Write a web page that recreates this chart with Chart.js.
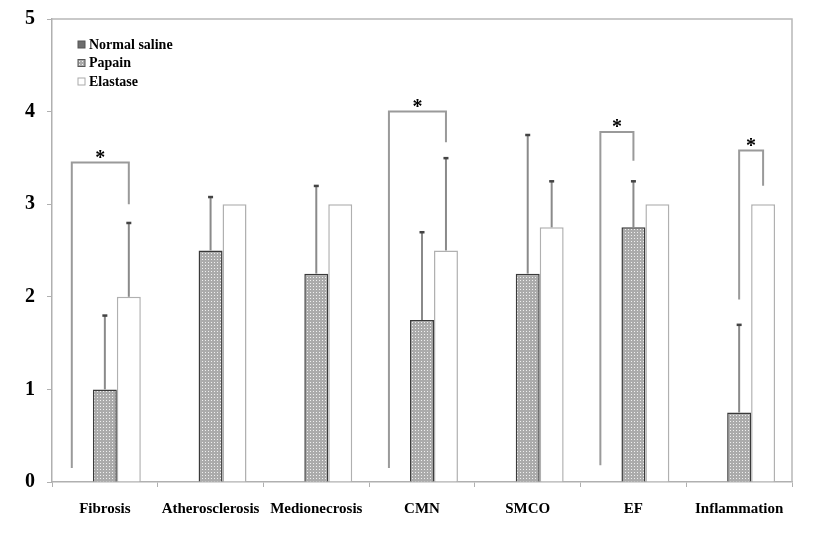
<!DOCTYPE html>
<html>
<head>
<meta charset="utf-8">
<script src="https://cdn.jsdelivr.net/npm/chart.js@4.4.1/dist/chart.umd.min.js"></script>
<style>
  body { margin: 0; background: #fff; }
  #c { display: block; }
</style>
</head>
<body>
<canvas id="c" width="827" height="533"></canvas>
<script>
// data
categories = ["Fibrosis", "Atherosclerosis", "Medionecrosis", "CMN", "SMCO", "EF", "Inflammation"];
seriesNames = ["Normal saline", "Papain", "Elastase"];
normalSaline = [0, 0, 0, 0, 0, 0, 0];
papain = [1.0, 2.5, 2.25, 1.75, 2.25, 2.75, 0.75];
papainUpper = [1.8, 3.08, 3.2, 2.7, 3.75, 3.25, 1.7];
elastase = [2.0, 3.0, 3.0, 2.5, 2.75, 3.0, 3.0];
elastaseUpper = [2.8, null, null, 3.5, 3.25, null, null];
yTicks = [0, 1, 2, 3, 4, 5];

// significance brackets: category, from series, to series, top value, bottom of each leg
sigCategory = [0, 3, 5, 6];
sigFrom = [0, 0, 0, 1];
sigTo = [2, 2, 1, 2];
sigTop = [3.45, 4.0, 3.78, 3.58];
sigLeftBottom = [0.15, 0.15, 0.18, 1.97];
sigRightBottom = [3.0, 3.67, 3.47, 3.2];
sigLabel = ["*", "*", "*", "*"];

FONT = "'Liberation Serif', 'Times New Roman', serif";

function makeDots() {
  let p = document.createElement("canvas");
  p.width = 3;
  p.height = 3;
  let g = p.getContext("2d");
  g.fillStyle = "#ababab";
  g.fillRect(0, 0, 3, 3);
  g.fillStyle = "#f0f0f0";
  g.fillRect(1, 1, 1, 1);
  return g.createPattern(p, "repeat");
}
dots = makeDots();

const extras = {
  id: "extras",
  afterDatasetsDraw(chart) {
    const ctx = chart.ctx;
    const a = chart.chartArea;
    const y = chart.scales.y;

    // frame on top and right
    ctx.save();
    ctx.strokeStyle = "#b8b8b8";
    ctx.lineWidth = 1.5;
    ctx.beginPath();
    ctx.moveTo(a.left, a.top);
    ctx.lineTo(a.right, a.top);
    ctx.lineTo(a.right, a.bottom);
    ctx.stroke();

    // error bars
    [[1, papainUpper], [2, elastaseUpper]].forEach(([di, upper]) => {
      const meta = chart.getDatasetMeta(di);
      meta.data.forEach((bar, i) => {
        if (upper[i] == null) return;
        const yt = y.getPixelForValue(upper[i]);
        ctx.strokeStyle = "#8a8a8a";
        ctx.lineWidth = 2;
        ctx.beginPath();
        ctx.moveTo(bar.x, bar.y);
        ctx.lineTo(bar.x, yt);
        ctx.stroke();
        ctx.fillStyle = "#444";
        ctx.fillRect(bar.x - 2.5, yt - 1, 5, 2.5);
      });
    });

    // brackets with stars
    const bw = chart.getDatasetMeta(0).data[0].width;
    sigCategory.forEach((c, k) => {
      let xl = chart.getDatasetMeta(sigFrom[k]).data[c].x;
      let xr = chart.getDatasetMeta(sigTo[k]).data[c].x;
      if (sigFrom[k] == 0) xl -= bw * 0.38;
      const yt = y.getPixelForValue(sigTop[k]);
      ctx.strokeStyle = "#9a9a9a";
      ctx.lineWidth = 2;
      ctx.beginPath();
      ctx.moveTo(xl, y.getPixelForValue(sigLeftBottom[k]));
      ctx.lineTo(xl, yt);
      ctx.lineTo(xr, yt);
      ctx.lineTo(xr, y.getPixelForValue(sigRightBottom[k]));
      ctx.stroke();
      ctx.fillStyle = "#000";
      ctx.font = "bold 20px " + FONT;
      ctx.textAlign = "center";
      ctx.textBaseline = "middle";
      ctx.fillText(sigLabel[k], (xl + xr) / 2, yt - 4);
    });

    // legend
    ctx.font = "bold 14px " + FONT;
    ctx.textAlign = "left";
    ctx.textBaseline = "middle";
    chart.data.datasets.forEach((ds, i) => {
      const ly = a.top + 26 + i * 18.5;
      const lx = a.left + 26;
      ctx.fillStyle = i == 0 ? "#6e6e6e" : ds.backgroundColor;
      ctx.fillRect(lx, ly - 4, 7, 7);
      ctx.strokeStyle = i == 2 ? "#aaa" : "#555";
      ctx.lineWidth = 1;
      ctx.strokeRect(lx, ly - 4, 7, 7);
      ctx.fillStyle = "#000";
      ctx.fillText(ds.label, lx + 11, ly);
    });
    ctx.restore();
  },
};

const ctx = document.getElementById("c").getContext("2d");
myChart = new Chart(ctx, {
  type: "bar",
  data: {
    labels: categories,
    datasets: [
      {
        label: seriesNames[0],
        data: normalSaline,
        backgroundColor: "#6e6e6e",
        borderWidth: 0,
      },
      {
        label: seriesNames[1],
        data: papain,
        backgroundColor: dots,
        borderColor: "#3a3a3a",
        borderWidth: 1.5,
      },
      {
        label: seriesNames[2],
        data: elastase,
        backgroundColor: "#ffffff",
        borderColor: "#b0b0b0",
        borderWidth: 1.5,
      },
    ],
  },
  options: {
    responsive: false,
    animation: false,
    devicePixelRatio: 1,
    layout: { padding: { top: 19, right: 35, left: 0, bottom: 0 } },
    datasets: { bar: { categoryPercentage: 0.68, barPercentage: 1.0 } },
    plugins: { legend: { display: false }, tooltip: { enabled: false } },
    scales: {
      x: {
        grid: { drawOnChartArea: false, tickLength: 5, color: "#b0b0b0", offset: true },
        border: { color: "#b0b0b0", width: 1.5 },
        ticks: { color: "#000", padding: 13, maxRotation: 0, autoSkip: false, font: { family: FONT, weight: "bold", size: 15 } },
        afterFit: (s) => { s.height = 51; s.paddingLeft = 0; s.paddingRight = 0; },
      },
      y: {
        min: 0,
        max: 5,
        afterBuildTicks: (s) => { s.ticks = yTicks.map((v) => ({ value: v })); },
        grid: { drawOnChartArea: false, tickLength: 5, color: "#b0b0b0" },
        border: { color: "#b0b0b0", width: 1.5 },
        ticks: { color: "#000", padding: 12, font: { family: FONT, weight: "bold", size: 20, lineHeight: 1 } },
        afterFit: (s) => { s.width = 52; s.paddingTop = 0; s.paddingBottom = 0; },
      },
    },
  },
  plugins: [extras],
});
</script>
</body>
</html>
